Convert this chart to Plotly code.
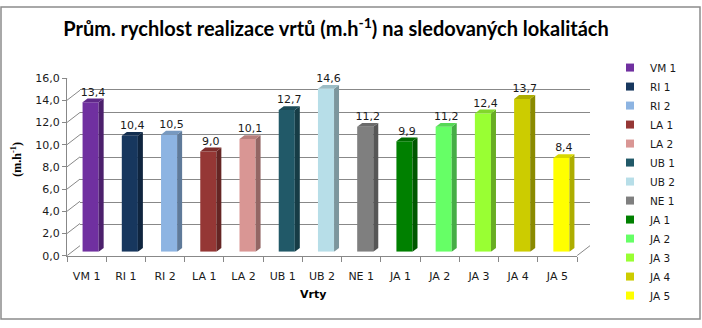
import plotly.graph_objects as go

# ---------------- data ----------------
categories = ["VM 1", "RI 1", "RI 2", "LA 1", "LA 2", "UB 1", "UB 2",
              "NE 1", "JA 1", "JA 2", "JA 3", "JA 4", "JA 5"]
values = [13.4, 10.4, 10.5, 9.0, 10.1, 12.7, 14.6, 11.2, 9.9, 11.2, 12.4, 13.7, 8.4]
colors = ["#7030A0", "#17375E", "#8DB4E2", "#953735", "#D99694", "#215968", "#B7DEE8",
          "#7F7F7F", "#008000", "#66FF66", "#99FF33", "#CCCC00", "#FFFF00"]
y_ticks = [0, 2, 4, 6, 8, 10, 12, 14, 16]

title_text = "Prům. rychlost realizace vrtů (m.h<sup>-1</sup>) na sledovaných lokalitách"
y_title = "(m.h<sup>-1</sup>)"
x_title = "Vrty"

# ---------------- geometry helpers ----------------
W, H = 702, 328
def fx(p):
    return p / W
def fy(p):
    return 1 - p / H

def shade(hexc, f):
    h = hexc.lstrip("#")
    r, g, b = int(h[0:2], 16), int(h[2:4], 16), int(h[4:6], 16)
    if f < 1:
        r, g, b = int(r * f), int(g * f), int(b * f)
    else:
        t = f - 1
        r, g, b = int(r + (255 - r) * t), int(g + (255 - g) * t), int(b + (255 - b) * t)
    return "#%02x%02x%02x" % (r, g, b)

n = len(categories)
xs = list(range(n))
YMAX = 16
# bar subplot pixel geometry
bx0, bx1 = 71, 581
by_top, by_bot = 70, 256
px_per_cat = (bx1 - bx0) / n
px_per_unit = (by_bot - by_top) / YMAX
bar_w = 0.41
side_dx = 5 / px_per_cat
side_dy = 4 / px_per_unit

grid_col = "#888888"
font_sans = "DejaVu Sans"
label_texts = [("%.1f" % v).replace(".", ",") for v in values]

fig = go.Figure()

# back wall grid (subplot xy)
fig.add_trace(go.Scatter(x=[], y=[], xaxis="x", yaxis="y", showlegend=False, hoverinfo="skip"))
# front axes (subplot x2y2)
fig.add_trace(go.Scatter(x=[], y=[], xaxis="x2", yaxis="y2", showlegend=False, hoverinfo="skip"))

# bars front faces (subplot x3y3)
fig.add_trace(go.Bar(
    x=xs, y=values, width=bar_w, xaxis="x3", yaxis="y3",
    marker=dict(color=colors, line=dict(width=0)), showlegend=False, hoverinfo="skip"))

# 3D side and top faces
for i, v in enumerate(values):
    xl = xs[i] - bar_w / 2
    xr = xs[i] + bar_w / 2
    fig.add_trace(go.Scatter(
        x=[xr, xr + side_dx, xr + side_dx, xr, xr],
        y=[0, side_dy, v + side_dy, v, 0],
        fill="toself", mode="lines", line=dict(width=0),
        fillcolor=shade(colors[i], 0.68), xaxis="x3", yaxis="y3",
        showlegend=False, hoverinfo="skip"))
    fig.add_trace(go.Scatter(
        x=[xl, xr, xr + side_dx, xl + side_dx, xl],
        y=[v, v, v + side_dy, v + side_dy, v],
        fill="toself", mode="lines", line=dict(width=0),
        fillcolor=shade(colors[i], 0.85), xaxis="x3", yaxis="y3",
        showlegend=False, hoverinfo="skip"))

# data labels
fig.add_trace(go.Scatter(
    x=[x + side_dx / 2 for x in xs], y=[v + side_dy for v in values],
    mode="text", text=label_texts,
    textposition="top center", xaxis="x3", yaxis="y3",
    textfont=dict(family=font_sans, size=11, color="#1a1a1a"),
    showlegend=False, hoverinfo="skip", cliponaxis=False))

# legend entries
for c, col in zip(categories, colors):
    fig.add_trace(go.Scatter(
        x=[None], y=[None], mode="markers", name=c, xaxis="x3", yaxis="y3",
        marker=dict(symbol="square", size=8, color=col, line=dict(width=0))))

# left wall diagonals + floor right edge
shapes = []
for t in y_ticks:
    shapes.append(dict(type="line", xref="paper", yref="y2",
                       xsizemode="pixel", xanchor=fx(67), x0=0, x1=13,
                       ysizemode="pixel", yanchor=t, y0=0, y1=10,
                       line=dict(color=grid_col, width=1)))
shapes.append(dict(type="line", xref="paper", yref="y2",
                   xsizemode="pixel", xanchor=fx(577), x0=0, x1=13,
                   ysizemode="pixel", yanchor=0, y0=0, y1=10,
                   line=dict(color=grid_col, width=1)))
# outer chart border
shapes.append(dict(type="rect", xref="paper", yref="paper",
                   x0=fx(1), x1=fx(700), y0=fy(326), y1=fy(1),
                   line=dict(color="#8c8c8c", width=1.5)))

fig.update_layout(
    width=W, height=H,
    margin=dict(l=0, r=0, t=0, b=0),
    paper_bgcolor="white", plot_bgcolor="rgba(0,0,0,0)",
    separators=", ",
    barmode="overlay",
    showlegend=True,
    legend=dict(x=fx(610), y=fy(49), xanchor="left", yanchor="top",
                font=dict(family=font_sans, size=10.5, color="#1a1a1a"),
                bgcolor="rgba(0,0,0,0)", borderwidth=0, tracegroupgap=0),
    title=dict(text=title_text, x=fx(336), xanchor="center", y=fy(24), yanchor="middle",
               xref="paper", yref="paper",
               font=dict(family="Lato", size=20, color="#000000", weight="bold")),
    xaxis=dict(domain=[fx(80), fx(590)], range=[0, 1], visible=False, fixedrange=True),
    yaxis=dict(domain=[fy(251), fy(64)], range=[0, YMAX], anchor="x",
               tickvals=y_ticks, showgrid=True, gridcolor=grid_col, gridwidth=1,
               showticklabels=False, ticks="", zeroline=False, showline=False),
    xaxis2=dict(domain=[fx(67), fx(577)], range=[-0.5, n - 0.5], anchor="y2",
                tickvals=xs, ticktext=categories, ticks="",
                ticklabelstandoff=10,
                showline=True, linecolor=grid_col, linewidth=1,
                showgrid=False, zeroline=False,
                tickfont=dict(family=font_sans, size=11, color="#1a1a1a"),
                minor=dict(tickvals=[x - 0.5 for x in xs] + [n - 0.5], ticks="outside",
                           ticklen=5, tickcolor=grid_col, showgrid=False)),
    yaxis2=dict(domain=[fy(260), fy(75)], range=[0, YMAX], anchor="x2",
                tickvals=y_ticks, tickformat=".1f", ticks="outside", ticklen=4,
                tickcolor=grid_col, showline=True, linecolor=grid_col, linewidth=1,
                showgrid=False, zeroline=False,
                tickfont=dict(family=font_sans, size=11, color="#1a1a1a")),
    xaxis3=dict(domain=[fx(bx0), fx(bx1)], range=[-0.5, n - 0.5], anchor="y3", visible=False),
    yaxis3=dict(domain=[fy(by_bot), fy(by_top)], range=[0, YMAX], anchor="x3", visible=False),
    shapes=shapes,
    annotations=[
        dict(text=y_title, x=fx(17), y=fy(160), xref="paper", yref="paper",
             xanchor="center", yanchor="middle",
             showarrow=False, textangle=-90,
             font=dict(family="Liberation Serif", size=12, color="#000000", weight="bold")),
        dict(text=x_title, x=fx(313), y=fy(300), xref="paper", yref="paper",
             xanchor="center", yanchor="middle",
             showarrow=False,
             font=dict(family=font_sans, size=11, color="#000000", weight="bold")),
    ],
)

fig.write_html("out.html")
